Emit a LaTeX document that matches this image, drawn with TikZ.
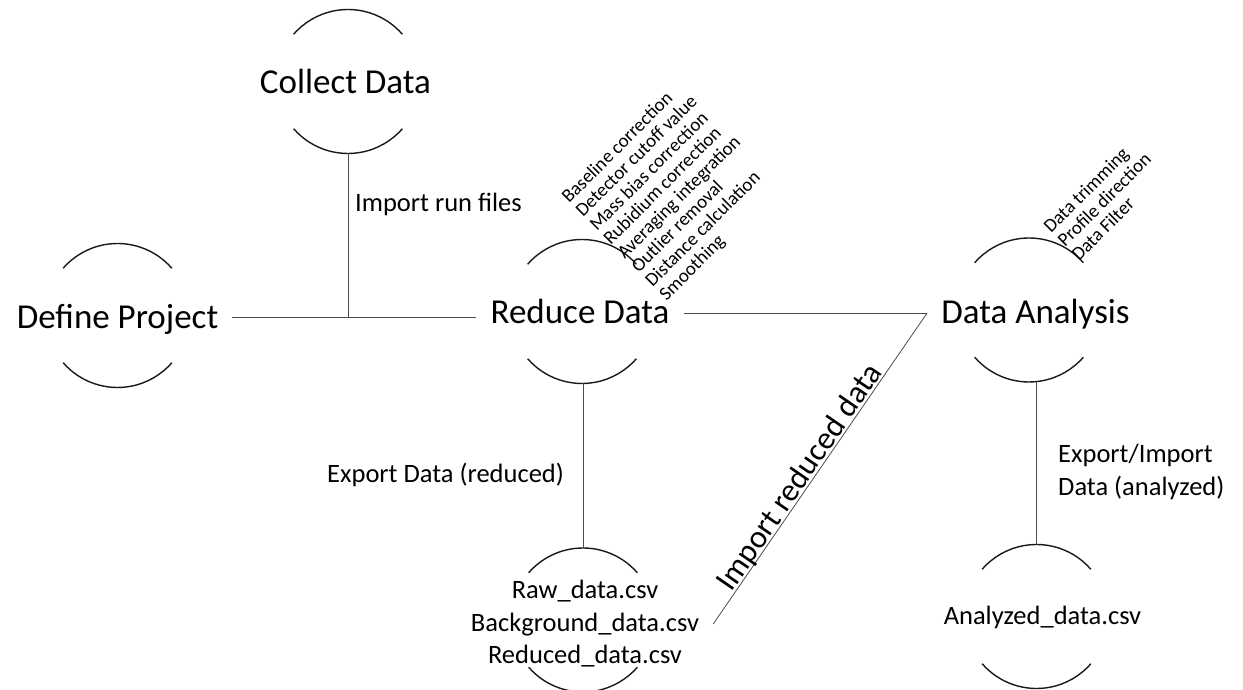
\documentclass[tikz,border=0pt]{standalone}
\usepackage{fontspec}
\setmainfont{Carlito}
\begin{document}
\begin{tikzpicture}[x=1pt,y=1pt,
  hub/.style={circle,minimum size=144pt,inner sep=0pt,outer sep=0pt},
  arcline/.style={line width=1.4pt,black!90},
  conn/.style={line width=0.8pt,black!70},
  hubtitle/.style={font=\fontsize{35}{42}\selectfont,text height=22pt,text depth=0pt,inner xsep=14pt,inner ysep=0pt},
  lbl/.style={font=\fontsize{26.5}{32.5}\selectfont,inner sep=0pt,text=black},
  lblone/.style={lbl,text height=16.7pt,text depth=0pt},
  steptext/.style={font=\fontsize{19}{20}\selectfont,rotate=45,anchor=base west,inner sep=0pt}]
\useasboundingbox (0,0) rectangle (1243,690);

% two arcs, top and bottom, around each hub
\newcommand\hubarcs[1]{%
  \draw[arcline] (#1.41) arc[start angle=41,end angle=139,radius=72pt];
  \draw[arcline] (#1.-139) arc[start angle=-139,end angle=-41,radius=72pt];}

% hubs
\node[hub] (collect)  at (348,608.5) {};
\node[hub] (define)   at (117.5,374.5) {};
\node[hub] (reduce)   at (582,378.5) {};
\node[hub] (analysis) at (1029,380) {};
\node[hub] (raw)      at (583,70) {};
\node[hub] (analyzed) at (1036.5,73.5) {};
\foreach \h in {collect,define,reduce,analysis,raw,analyzed} {\hubarcs{\h}}

% hub titles
\node[hubtitle] (tCollect)  at (345.5,607.5) {Collect Data};
\node[hubtitle] (tDefine)   at (117.5,372.5) {Define Project};
\node[hubtitle] (tReduce)   at (580,377) {Reduce Data};
\node[hubtitle] (tAnalysis) at (1035.5,377) {Data Analysis};
\node[lbl,align=center,inner xsep=14pt] (tRaw) at (585,66)
  {Raw\_data.csv\\Background\_data.csv\\Reduced\_data.csv};
\node[lblone] (tAnalyzed) at (1042.5,74) {Analyzed\_data.csv};

% step lists
\foreach \t [count=\i from 0] in {Baseline correction,Detector cutoff value,Mass bias correction,Rubidium correction,Averaging integration,Outlier removal,Distance calculation,Smoothing}
  \node[steptext] (redstep\i) at ({569+13.93*\i},{486-13.93*\i}) {\t};
\foreach \t [count=\i from 0] in {Data trimming,Profile direction,Data Filter}
  \node[steptext] (anastep\i) at ({1051+13.93*\i},{456-13.93*\i}) {\t};

% connector labels
\node[lbl,anchor=base west] (lImport) at (355,478) {Import run files};
\node[lbl,anchor=base west] (lExport) at (327,207) {Export Data (reduced)};
\node[lbl,anchor=west,align=left] (lExportImport) at (1058,218.2) {Export/Import\\Data (analyzed)};

% connectors
\draw[conn] (tDefine.east) -- (tDefine.east -| tReduce.west);
\draw[conn] (collect.south) -- (collect.south |- tDefine.east);
\draw[conn] (tReduce.east) -- (tAnalysis.west);
\draw[conn] (reduce.south -| raw.north) -- (raw.north);
\draw[conn] (tRaw.east) -- node[lbl,font=\fontsize{32}{37}\selectfont,text depth=2pt,sloped,anchor=south,pos=0.45] (lReduced) {Import reduced data} (tAnalysis.west);
\draw[conn] (analysis.south -| analyzed.north) -- (analyzed.north);
\end{tikzpicture}
\end{document}
